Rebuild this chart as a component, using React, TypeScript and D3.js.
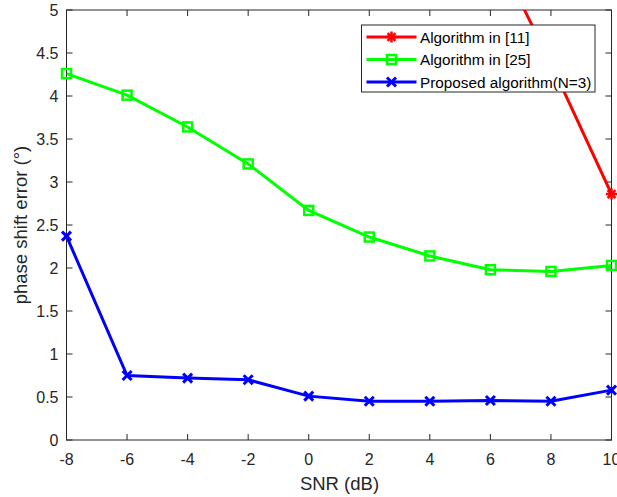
import React from "react";
import * as d3 from "d3";

const xTicks = [-8, -6, -4, -2, 0, 2, 4, 6, 8, 10];
const yTicks = [0, 0.5, 1, 1.5, 2, 2.5, 3, 3.5, 4, 4.5, 5];
const snr = [-8, -6, -4, -2, 0, 2, 4, 6, 8, 10];
const redX = [6, 8, 10];
const redY = [5.8, 4.38, 2.86];
const greenY = [4.26, 4.01, 3.64, 3.21, 2.67, 2.36, 2.14, 1.98, 1.96, 2.03];
const blueY = [2.37, 0.75, 0.72, 0.7, 0.51, 0.45, 0.45, 0.46, 0.45, 0.58];
const legendLabels = ["Algorithm in [11]", "Algorithm in [25]", "Proposed algorithm(N=3)"];
const colors = ["#ff0000", "#00ff00", "#0000ff"];

const W = 617, H = 497;
const L = 66.5, R = 611.5, T = 10, B = 440;
const axisColor = "#262626";
const font = "'Liberation Sans', Arial, sans-serif";

function Marker({ type, x, y, color }: { type: number; x: number; y: number; color: string }) {
  if (type === 0) {
    const r = 5.5;
    return (
      <g stroke={color} strokeWidth={2.5}>
        <line x1={x - r} y1={y} x2={x + r} y2={y} />
        <line x1={x} y1={y - r} x2={x} y2={y + r} />
        <line x1={x - r * 0.72} y1={y - r * 0.72} x2={x + r * 0.72} y2={y + r * 0.72} />
        <line x1={x - r * 0.72} y1={y + r * 0.72} x2={x + r * 0.72} y2={y - r * 0.72} />
      </g>
    );
  }
  if (type === 1) {
    const s = 9;
    return <rect x={x - s / 2} y={y - s / 2} width={s} height={s} fill="none" stroke={color} strokeWidth={2.5} />;
  }
  const r = 4.5;
  return (
    <g stroke={color} strokeWidth={3}>
      <line x1={x - r} y1={y - r} x2={x + r} y2={y + r} />
      <line x1={x - r} y1={y + r} x2={x + r} y2={y - r} />
    </g>
  );
}

export default function App() {
  const x = d3.scaleLinear().domain([-8, 10]).range([L, R]);
  const y = d3.scaleLinear().domain([0, 5]).range([B, T]);
  const line = d3.line<[number, number]>().x((d) => x(d[0])).y((d) => y(d[1]));

  const series: [number, number][][] = [
    redX.map((v, i) => [v, redY[i]] as [number, number]),
    snr.map((v, i) => [v, greenY[i]] as [number, number]),
    snr.map((v, i) => [v, blueY[i]] as [number, number]),
  ];

  const legX = 361.5, legY = 25, legW = 233.5, legH = 67;
  const rowY = [37, 59.5, 82];

  return (
    <svg width={W} height={H} style={{ position: "absolute", left: 0, top: 0, background: "#fff" }} fontFamily={font}>
      <defs>
        <clipPath id="plotclip">
          <rect x={L} y={T} width={R - L} height={B - T} />
        </clipPath>
      </defs>
      <rect x={0} y={0} width={W} height={H} fill="#fff" />
      <rect x={L} y={T} width={R - L} height={B - T} fill="none" stroke={axisColor} strokeWidth={1} />
      {xTicks.map((t) => (
        <g key={"xt" + t}>
          <line x1={x(t)} x2={x(t)} y1={B} y2={B - 6} stroke={axisColor} />
          <line x1={x(t)} x2={x(t)} y1={T} y2={T + 6} stroke={axisColor} />
          <text x={x(t)} y={465} textAnchor="middle" fontSize={16} fill={axisColor}>{t}</text>
        </g>
      ))}
      {yTicks.map((t) => (
        <g key={"yt" + t}>
          <line x1={L} x2={L + 6} y1={y(t)} y2={y(t)} stroke={axisColor} />
          <line x1={R} x2={R - 6} y1={y(t)} y2={y(t)} stroke={axisColor} />
          <text x={L - 8} y={y(t) + 5.7} textAnchor="end" fontSize={16} fill={axisColor}>{t}</text>
        </g>
      ))}
      <text x={(L + R) / 2 + 0.5} y={490} textAnchor="middle" fontSize={18.5} fill={axisColor}>SNR (dB)</text>
      <text transform={`translate(27, ${(T + B) / 2}) rotate(-90)`} textAnchor="middle" fontSize={18.5} fill={axisColor}>phase shift error (°)</text>

      <g clipPath="url(#plotclip)">
        {series.map((s, i) => (
          <path key={"p" + i} d={line(s) || ""} fill="none" stroke={colors[i]} strokeWidth={3} />
        ))}
      </g>
      {series.map((s, i) => (
        <g key={"m" + i}>
          {s.filter((d) => d[1] <= 5).map((d, j) => (
            <Marker key={j} type={i} x={x(d[0])} y={y(d[1])} color={colors[i]} />
          ))}
        </g>
      ))}

      <rect x={legX} y={legY} width={legW} height={legH} fill="#fff" stroke={axisColor} strokeWidth={1} />
      {legendLabels.map((lab, i) => (
        <g key={"lg" + i}>
          <line x1={366.5} x2={416.5} y1={rowY[i]} y2={rowY[i]} stroke={colors[i]} strokeWidth={3} />
          <Marker type={i} x={391.5} y={rowY[i]} color={colors[i]} />
          <text x={420} y={rowY[i] + 5.5} fontSize={15.3} fill="#000">{lab}</text>
        </g>
      ))}
    </svg>
  );
}
